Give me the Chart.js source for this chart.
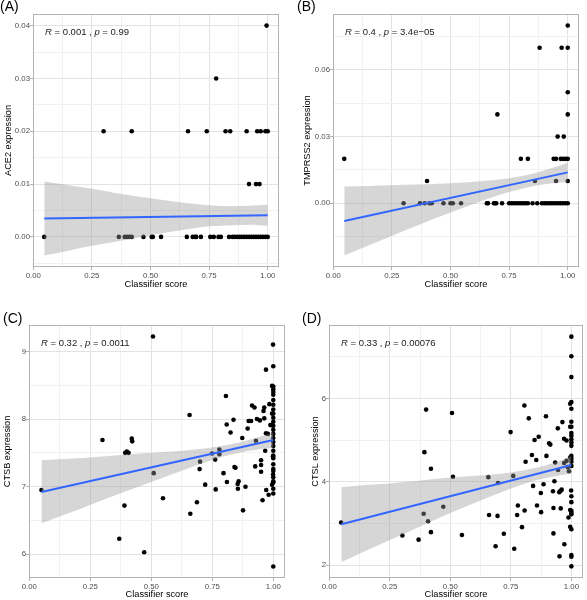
<!DOCTYPE html>
<html>
<head>
<meta charset="utf-8">
<script src="https://cdn.jsdelivr.net/npm/chart.js@4.4.1/dist/chart.umd.min.js"></script>
<style>
  body { margin: 0; background: #fff; }
  #wrap { position: relative; width: 587px; height: 600px; overflow: hidden; }
  .panel { position: absolute; }
</style>
</head>
<body>
<div id="wrap">
  <div class="panel" style="left:0;top:0"><canvas id="chartA" width="290" height="300"></canvas></div>
  <div class="panel" style="left:290px;top:0"><canvas id="chartB" width="297" height="300"></canvas></div>
  <div class="panel" style="left:0;top:300px"><canvas id="chartC" width="290" height="300"></canvas></div>
  <div class="panel" style="left:290px;top:300px"><canvas id="chartD" width="297" height="300"></canvas></div>
</div>
<script>
// shared x axis
const xTicks = [0, 0.25, 0.5, 0.75, 1];
const xMinor = [0.125, 0.375, 0.625, 0.875];
const xLabels = ['0.00', '0.25', '0.50', '0.75', '1.00'];

// (A) ACE2
const scoreA = [0.995, 0.78,
  0.30, 0.42, 0.66, 0.74, 0.82, 0.84, 0.91, 0.955, 0.97, 0.99, 1.00,
  0.92, 0.95, 0.965,
  0.047, 0.365, 0.39, 0.40, 0.41, 0.42, 0.47, 0.505, 0.51, 0.545, 0.655, 0.68, 0.69, 0.695, 0.715,
  0.755, 0.77, 0.79, 0.80, 0.835, 0.85, 0.86, 0.87, 0.88, 0.89, 0.90, 0.91, 0.92, 0.93, 0.94, 0.95,
  0.96, 0.97, 0.98, 0.99, 1.00];
const ace2 = [0.04, 0.03,
  0.02, 0.02, 0.02, 0.02, 0.02, 0.02, 0.02, 0.02, 0.02, 0.02, 0.02,
  0.01, 0.01, 0.01,
  0, 0, 0, 0, 0, 0, 0, 0, 0, 0, 0, 0, 0, 0, 0,
  0, 0, 0, 0, 0, 0, 0, 0, 0, 0, 0, 0, 0, 0, 0, 0,
  0, 0, 0, 0, 0];
const bandXA = [0.047, 0.15, 0.25, 0.35, 0.5, 0.65, 0.75, 0.85, 0.92, 1.0];
const bandLoA = [-0.0035, -0.0026, -0.0017, -0.0009, 0.0003, 0.0014, 0.0020, 0.0022, 0.0023, 0.0021];
const bandHiA = [0.0105, 0.0098, 0.0091, 0.0083, 0.0073, 0.0064, 0.0060, 0.0058, 0.0059, 0.0061];
const fitXA = [0.047, 1.0];
const fitYA = [0.0035, 0.0041];
const yTicksA = [0, 0.01, 0.02, 0.03, 0.04];
const yMinorA = [-0.005, 0.005, 0.015, 0.025, 0.035];
const yLabelsA = ['0.00', '0.01', '0.02', '0.03', '0.04'];

// (B) TMPRSS2
const scoreB = [1.00,
  0.88, 0.974, 1.00,
  1.00,
  0.70, 1.00,
  0.957, 0.983,
  0.047, 0.80, 0.83, 0.94, 0.95, 0.97, 0.98, 0.99, 1.00,
  0.40, 0.86, 0.95, 1.00,
  0.30, 0.37, 0.39, 0.41, 0.42, 0.47, 0.50, 0.51, 0.545, 0.655, 0.66, 0.685, 0.69, 0.695, 0.72,
  0.75, 0.76, 0.77, 0.78, 0.79, 0.80, 0.81, 0.82, 0.83, 0.85, 0.87, 0.89, 0.90, 0.91, 0.92, 0.93,
  0.94, 0.95, 0.96, 0.97, 0.98, 0.99, 1.00];
const tmprss2 = [0.08,
  0.07, 0.07, 0.07,
  0.05,
  0.04, 0.04,
  0.03, 0.03,
  0.02, 0.02, 0.02, 0.02, 0.02, 0.02, 0.02, 0.02, 0.02,
  0.01, 0.01, 0.01, 0.01,
  0, 0, 0, 0, 0, 0, 0, 0, 0, 0, 0, 0, 0, 0, 0,
  0, 0, 0, 0, 0, 0, 0, 0, 0, 0, 0, 0, 0, 0, 0, 0,
  0, 0, 0, 0, 0, 0, 0];
const bandXB = [0.047, 0.15, 0.25, 0.35, 0.5, 0.65, 0.75, 0.85, 0.92, 1.0];
const bandLoB = [-0.0235, -0.0190, -0.0147, -0.0104, -0.0042, 0.0017, 0.0051, 0.0077, 0.0088, 0.0096];
const bandHiB = [0.0075, 0.0078, 0.0081, 0.0084, 0.0090, 0.0101, 0.0113, 0.0133, 0.0154, 0.0182];
const fitXB = [0.047, 1.0];
const fitYB = [-0.0080, 0.0139];
const yTicksB = [0, 0.03, 0.06];
const yMinorB = [-0.015, 0.015, 0.045, 0.075];
const yLabelsB = ['0.00', '0.03', '0.06'];

// (C) CTSB
const scoreC = [0.05, 0.30, 0.369, 0.39, 0.393, 0.40, 0.407, 0.42, 0.422, 0.471, 0.507, 0.51, 0.548,
  0.657, 0.66, 0.687, 0.698, 0.70, 0.721, 0.749, 0.762, 0.764, 0.779, 0.779, 0.796, 0.806, 0.809,
  0.81, 0.825, 0.837, 0.841, 0.845, 0.854, 0.858, 0.855, 0.873, 0.876, 0.886, 0.895, 0.899, 0.909,
  0.913, 0.923, 0.926, 0.929, 0.933, 0.945, 0.95, 0.95, 0.95, 0.956, 0.96, 0.963, 0.963, 0.967,
  0.97, 0.97, 0.971, 0.978, 0.981, 0.984, 0.988, 0.995, 0.995, 0.995, 0.995, 0.999, 0.999, 0.999,
  1.0, 1.0, 1.0, 1.0, 1.0, 1.0, 1.0, 1.0, 1.0, 1.0, 1.0, 1.0, 1.0, 1.0, 1.0, 1.0, 1.0,
  1.0, 1.0, 1.0, 1.0, 1.0, 1.0, 1.0, 1.0, 1.0, 1.0, 1.0, 1.0];
const ctsb = [6.95, 7.69, 6.23, 6.72, 7.50, 7.52, 7.50, 7.71, 7.67, 6.03, 9.22, 7.20, 6.83,
  8.06, 6.60, 6.77, 7.26, 7.37, 7.03, 7.49, 7.40, 6.96, 7.55, 7.48, 7.20, 8.34, 7.92,
  7.07, 7.80, 7.99, 7.29, 7.28, 7.04, 7.08, 6.97, 7.72, 6.65, 7.00, 7.86, 7.97, 7.97,
  8.20, 8.17, 7.30, 7.68, 8.00, 7.98, 7.39, 7.32, 7.22, 6.80, 8.12, 8.17, 8.01, 7.53,
  8.73, 7.79, 6.95, 7.78, 6.88, 8.22, 7.91, 8.49, 8.08, 7.91, 7.03, 9.10, 7.45, 7.18,
  8.78, 8.48, 8.44, 8.40, 8.36, 8.28, 8.21, 8.14, 8.08, 8.02, 7.96, 7.90, 7.84, 7.78, 7.72, 7.66, 7.60,
  7.53, 7.46, 7.42, 7.33, 7.26, 7.23, 7.14, 7.08, 7.06, 6.97, 6.90, 5.82];
const bandXC = [0.05, 0.2, 0.35, 0.5, 0.65, 0.8, 0.9, 1.0];
const bandLoC = [6.46, 6.66, 6.87, 7.07, 7.27, 7.45, 7.53, 7.58];
const bandHiC = [7.39, 7.42, 7.46, 7.50, 7.54, 7.61, 7.69, 7.80];
const fitXC = [0.05, 1.0];
const fitYC = [6.92, 7.69];
const yTicksC = [6, 7, 8, 9];
const yMinorC = [6.5, 7.5, 8.5];
const yLabelsC = ['6', '7', '8', '9'];

// (D) CTSL
const scoreD = [0.049, 0.302, 0.369, 0.39, 0.393, 0.40, 0.408, 0.42, 0.42, 0.471, 0.507, 0.511, 0.548,
  0.657, 0.66, 0.687, 0.695, 0.697, 0.721, 0.749, 0.76, 0.764, 0.776, 0.779, 0.796, 0.806, 0.807,
  0.811, 0.824, 0.837, 0.842, 0.848, 0.855, 0.858, 0.865, 0.874, 0.875, 0.885, 0.895, 0.897, 0.908,
  0.913, 0.924, 0.926, 0.926, 0.93, 0.933, 0.944, 0.945, 0.95, 0.955, 0.96, 0.951, 0.956, 0.963,
  0.97, 0.98, 0.971, 0.97, 0.98, 0.985, 0.99, 0.988, 0.995, 0.995, 0.995, 0.995, 0.995, 0.999,
  1.0, 1.0, 1.0, 1.0, 1.0, 1.0, 1.0, 1.0, 1.0, 1.0, 1.0, 1.0, 1.0, 1.0, 1.0, 1.0, 1.0,
  1.0, 1.0, 1.0, 1.0, 1.0, 1.0, 1.0, 1.0];
const ctsl = [3.02, 2.71, 2.61, 3.23, 4.71, 5.73, 3.05, 2.79, 4.31, 3.40, 5.65, 4.12, 2.72,
  4.11, 3.20, 2.45, 3.18, 3.97, 2.75, 5.19, 4.14, 2.39, 3.20, 3.43, 2.91, 5.83, 3.31,
  4.48, 5.52, 4.64, 3.90, 5.00, 4.52, 3.43, 5.08, 3.73, 3.27, 3.94, 5.57, 4.62, 4.92,
  4.89, 3.77, 3.37, 2.76, 4.01, 4.46, 5.28, 4.28, 3.75, 3.78, 3.81, 2.21, 3.36, 5.43,
  5.03, 4.99, 2.50, 4.45, 4.50, 4.35, 4.25, 3.14, 5.87, 5.32, 4.58, 3.32, 2.92, 3.79,
  7.48, 7.01, 6.51, 5.91, 5.75, 5.44, 5.32, 5.17, 5.10, 5.02, 4.94, 4.86, 4.62, 4.55, 4.48, 4.38, 3.65,
  3.51, 3.30, 3.25, 3.22, 2.86, 2.24, 2.20, 1.97];
const bandXD = [0.05, 0.15, 0.25, 0.35, 0.5, 0.65, 0.75, 0.85, 0.92, 1.0];
const bandLoD = [2.07, 2.34, 2.60, 2.86, 3.25, 3.61, 3.84, 4.03, 4.12, 4.19];
const bandHiD = [3.87, 3.92, 3.96, 4.01, 4.10, 4.16, 4.22, 4.33, 4.44, 4.62];
const fitXD = [0.05, 1.0];
const fitYD = [2.98, 4.40];
const yTicksD = [2, 4, 6];
const yMinorD = [3, 5, 7];
const yLabelsD = ['2', '4', '6'];

Chart.defaults.font.family = '"Liberation Sans", Arial, sans-serif';
Chart.defaults.animation = false;

function pts(xs, ys) {
  return xs.map((x, i) => ({ x: x, y: ys[i] }));
}

function isIn(list, v) {
  return list.some(t => Math.abs(t - v) < 1e-9);
}

// frame, R/p label and panel tag, drawn on top like ggplot does
const decorPlugin = {
  id: 'decor',
  afterDraw(chart) {
    const o = chart.options.plugins.decor;
    const a = chart.chartArea;
    const ctx = chart.ctx;
    ctx.save();
    ctx.strokeStyle = '#b3b3b3';
    ctx.lineWidth = 1;
    ctx.strokeRect(Math.round(a.left) + 0.5, Math.round(a.top) + 0.5,
      Math.round(a.right - a.left) - 1, Math.round(a.bottom - a.top) - 1);

    ctx.fillStyle = '#1a1a1a';
    ctx.textBaseline = 'alphabetic';
    ctx.textAlign = 'left';
    let x = a.left + 12;
    const parts = [['R', true], [' = ' + o.r + ' , ', false], ['p', true], [' = ' + o.p, false]];
    parts.forEach(([t, it]) => {
      ctx.font = (it ? 'italic ' : '') + '9.5px "Liberation Sans", Arial';
      ctx.fillText(t, x, a.top + 21);
      x += ctx.measureText(t).width;
    });

    ctx.fillStyle = '#000';
    ctx.font = '14px "Liberation Sans", Arial';
    ctx.fillText(o.tag, o.tagX, o.tagY);
    ctx.restore();
  }
};

function makePanel(id, p) {
  const ctx = document.getElementById(id).getContext('2d');
  return new Chart(ctx, {
    type: 'scatter',
    data: {
      datasets: [
        {
          type: 'line', data: pts(p.fitX, p.fitY), borderColor: '#3366FF', borderWidth: 2,
          pointRadius: 0, fill: false, order: 0
        },
        {
          type: 'line', data: pts(p.bandX, p.bandHi), borderColor: 'rgba(0,0,0,0)', borderWidth: 1,
          pointRadius: 0, fill: '+1', backgroundColor: 'rgba(153,153,153,0.4)',
          cubicInterpolationMode: 'monotone', order: 1
        },
        {
          type: 'line', data: pts(p.bandX, p.bandLo), borderColor: 'rgba(0,0,0,0)', borderWidth: 1,
          pointRadius: 0, fill: false, cubicInterpolationMode: 'monotone', order: 1
        },
        {
          type: 'scatter', data: pts(p.xs, p.ys), backgroundColor: '#000', borderWidth: 0,
          pointRadius: 2.3, order: 2
        }
      ]
    },
    options: {
      responsive: false,
      layout: { padding: { left: 0, top: p.top, right: p.right, bottom: 0 } },
      plugins: {
        legend: { display: false },
        tooltip: { enabled: false },
        decor: { r: p.r, p: p.p, tag: p.tag, tagX: p.tagX, tagY: p.tagY }
      },
      scales: {
        x: {
          type: 'linear', min: -0.001, max: 1.048,
          afterBuildTicks: s => { s.ticks = xTicks.concat(xMinor).sort((a, b) => a - b).map(v => ({ value: v })); },
          afterFit: s => { s.height = p.xH; },
          ticks: {
            autoSkip: false, maxRotation: 0, padding: 1, color: '#4d4d4d', font: { size: 7.8 },
            callback: v => { const i = xTicks.findIndex(t => Math.abs(t - v) < 1e-9); return i >= 0 ? xLabels[i] : ''; }
          },
          grid: {
            color: c => isIn(xTicks, c.tick.value) ? '#e3e3e3' : '#f1f1f1',
            tickColor: c => isIn(xTicks, c.tick.value) ? '#b3b3b3' : 'rgba(0,0,0,0)',
            tickLength: 3
          },
          border: { display: false },
          title: { display: true, text: 'Classifier score', color: '#000', font: { size: 9.2 }, padding: { top: 0, bottom: p.xTitlePad } }
        },
        y: {
          type: 'linear', min: p.yMin, max: p.yMax,
          afterBuildTicks: s => { s.ticks = p.yTicks.concat(p.yMinor).sort((a, b) => a - b).map(v => ({ value: v })); },
          afterFit: s => { s.width = p.yW; },
          ticks: {
            autoSkip: false, padding: 0, color: '#4d4d4d', font: { size: 7.8 },
            callback: v => { const i = p.yTicks.findIndex(t => Math.abs(t - v) < 1e-9); return i >= 0 ? p.yLabels[i] : ''; }
          },
          grid: {
            color: c => isIn(p.yTicks, c.tick.value) ? '#e3e3e3' : '#f1f1f1',
            tickColor: c => isIn(p.yTicks, c.tick.value) ? '#b3b3b3' : 'rgba(0,0,0,0)',
            tickLength: 3
          },
          border: { display: false },
          title: { display: true, text: p.yTitle, color: '#000', font: { size: 9.2 }, padding: { top: p.yTitlePad, bottom: 0 } }
        }
      }
    },
    plugins: [decorPlugin]
  });
}

makePanel('chartA', {
  xs: scoreA, ys: ace2, bandX: bandXA, bandLo: bandLoA, bandHi: bandHiA, fitX: fitXA, fitY: fitYA,
  yMin: -0.0057, yMax: 0.0422, yTicks: yTicksA, yMinor: yMinorA, yLabels: yLabelsA,
  yTitle: 'ACE2 expression', r: '0.001', p: '0.99', tag: '(A)', tagX: 0, tagY: 11,
  top: 14, right: 11, yW: 33, xH: 33, xTitlePad: 10, yTitlePad: 3
});
makePanel('chartB', {
  xs: scoreB, ys: tmprss2, bandX: bandXB, bandLo: bandLoB, bandHi: bandHiB, fitX: fitXB, fitY: fitYB,
  yMin: -0.0287, yMax: 0.0852, yTicks: yTicksB, yMinor: yMinorB, yLabels: yLabelsB,
  yTitle: 'TMPRSS2 expression', r: '0.4', p: '3.4e\u221205', tag: '(B)', tagX: 7, tagY: 11,
  top: 14, right: 8, yW: 43, xH: 33, xTitlePad: 10, yTitlePad: 11.5
});
makePanel('chartC', {
  xs: scoreC, ys: ctsb, bandX: bandXC, bandLo: bandLoC, bandHi: bandHiC, fitX: fitXC, fitY: fitYC,
  yMin: 5.65, yMax: 9.39, yTicks: yTicksC, yMinor: yMinorC, yLabels: yLabelsC,
  yTitle: 'CTSB expression', r: '0.32', p: '0.0011', tag: '(C)', tagX: 3, tagY: 23,
  top: 25, right: 5, yW: 29, xH: 22, xTitlePad: 0, yTitlePad: 2
});
makePanel('chartD', {
  xs: scoreD, ys: ctsl, bandX: bandXD, bandLo: bandLoD, bandHi: bandHiD, fitX: fitXD, fitY: fitYD,
  yMin: 1.69, yMax: 7.76, yTicks: yTicksD, yMinor: yMinorD, yLabels: yLabelsD,
  yTitle: 'CTSL expression', r: '0.33', p: '0.00076', tag: '(D)', tagX: 12, tagY: 23,
  top: 25, right: 2, yW: 39, xH: 22, xTitlePad: 0, yTitlePad: 20
});
</script>
</body>
</html>
